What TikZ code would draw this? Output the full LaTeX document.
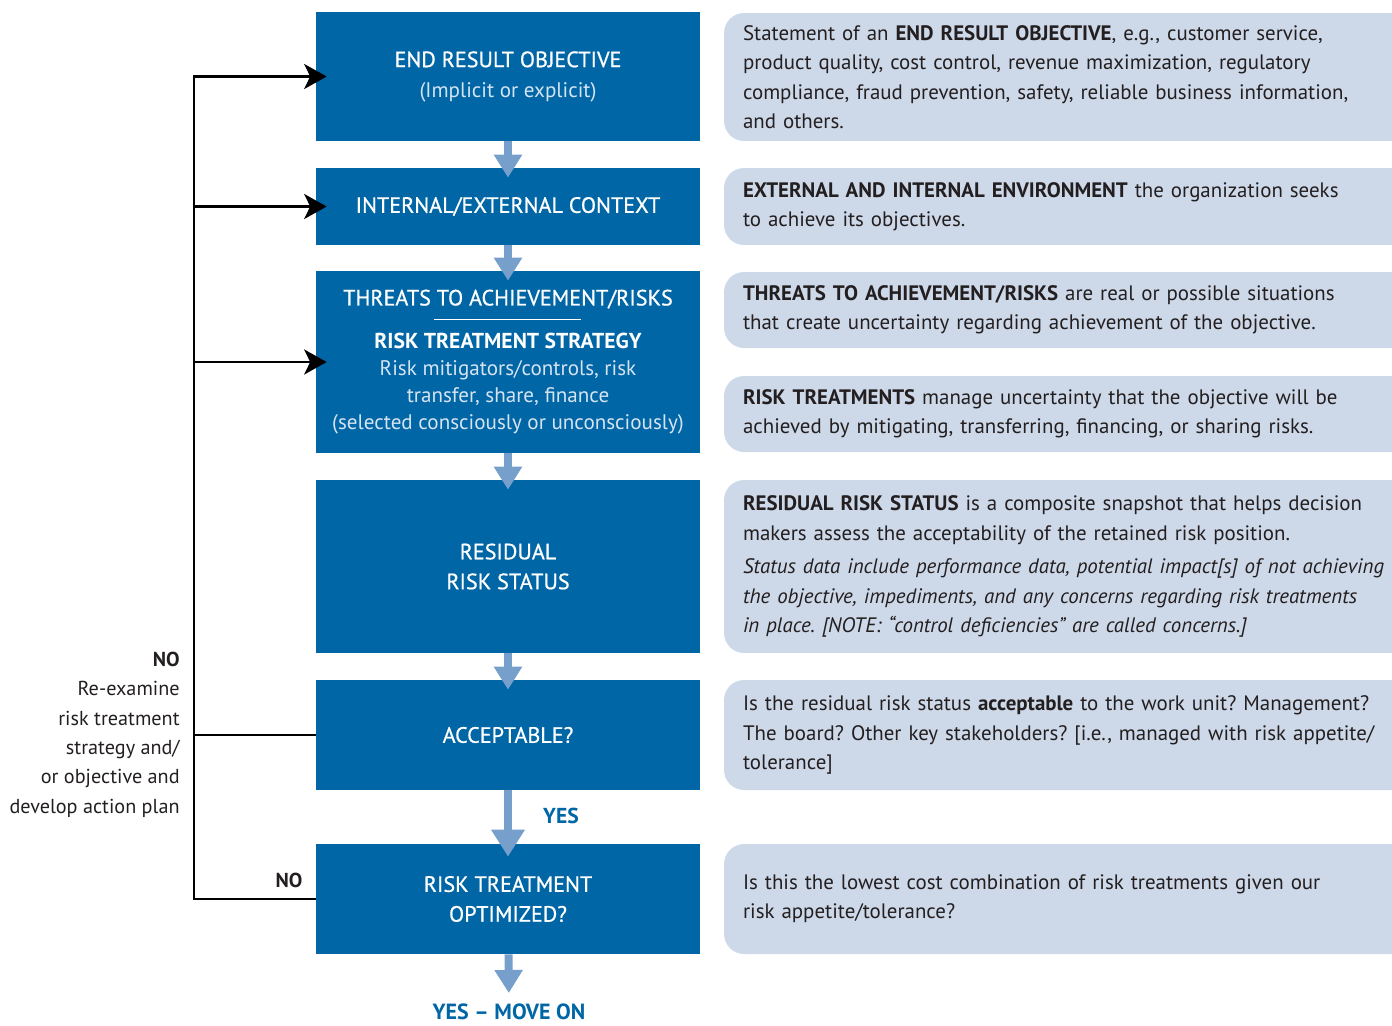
\documentclass[tikz,border=0pt]{standalone}
\usepackage{fontspec}
\setmainfont{PT Sans}
\newfontfamily\medfont[FakeBold=0.7]{PT Sans}
\usetikzlibrary{arrows.meta,calc}
\definecolor{BoxClr}{RGB}{0,102,166}
\definecolor{ArrClr}{RGB}{118,159,204}
\definecolor{NoteClr}{RGB}{205,216,232}
\definecolor{TxtClr}{RGB}{35,31,32}
\definecolor{SubClr}{RGB}{214,228,242}
\newcommand{\subtxt}[1]{\textcolor{SubClr}{\fontsize{12}{15.4}\selectfont #1}}
\frenchspacing

\begin{document}
\begin{tikzpicture}[x=0.02cm,y=-0.02cm,
  stepbox/.style={fill=BoxClr,text=white,minimum width=7.68cm,align=center,inner sep=0pt,font=\fontsize{12.6}{17}\selectfont\medfont},
  note/.style={fill=NoteClr,rounded corners=0.4cm,minimum width=13.76cm,text width=13cm,align=left,inner sep=0pt,text=TxtClr,font=\fontsize{11.9}{16.7}\selectfont},
  flow/.style={draw=ArrClr,line width=0.16cm,-{Triangle[length=0.46cm,width=0.54cm]},shorten >=-0.2cm},
  backline/.style={draw=black,line width=1.4pt},
  fbarrow/.style={backline,-{Stealth[length=0.45cm,width=0.5cm,inset=0.12cm]},shorten >=-0.22cm},
  label/.style={inner sep=0pt,text=TxtClr,font=\fontsize{11.5}{16.7}\selectfont}]
\useasboundingbox (0,0) rectangle (1392,1025);

\node[stepbox,minimum height=2.58cm] (obj) at (508,76.5) {END RESULT OBJECTIVE\\ \subtxt{\normalfont(Implicit or explicit)}};
\node[stepbox,minimum height=1.54cm] (ctx) at (508,206.5) {INTERNAL/EXTERNAL CONTEXT};
\node[stepbox,minimum height=3.64cm,font=\fontsize{12.6}{15.4}\selectfont\medfont] (risk) at (508,362)
  {THREATS TO ACHIEVEMENT/RISKS\\[9.1pt] {\normalfont\fontsize{12.3}{15.4}\selectfont\bfseries RISK TREATMENT STRATEGY}\\ \subtxt{\normalfont Risk mitigators/controls, risk}\\ \subtxt{\normalfont transfer, share, finance}\\ \subtxt{\normalfont(selected consciously or unconsciously)}};
\node[stepbox,minimum height=3.46cm] (resid) at (508,566.5) {RESIDUAL\\ RISK STATUS};
\node[stepbox,minimum height=2.2cm] (accept) at (508,735) {ACCEPTABLE?};
\node[stepbox,minimum height=2.2cm] (optim) at (508,899) {RISK TREATMENT\\ OPTIMIZED?};
\node[inner sep=0pt,text=BoxClr,font=\fontsize{12.5}{15}\selectfont\bfseries,anchor=base] (moveon) at (509,1019) {YES -- MOVE ON};

\draw[white,line width=0.6pt] ($(risk.north)+(-74,49)$) -- ($(risk.north)+(73,49)$);

\node[note,minimum height=2.56cm] (objNote) at (1068,77)
  {Statement of an \textbf{END RESULT OBJECTIVE}, e.g., customer service,\\ product quality, cost control, revenue maximization, regulatory\\ compliance, fraud prevention, safety, reliable business information,\\ and others.};
\node[note,minimum height=1.54cm] (ctxNote) at (1068,206.5)
  {\textbf{EXTERNAL AND INTERNAL ENVIRONMENT} the organization seeks\\ to achieve its objectives.};
\node[note,minimum height=1.52cm] (riskNote) at (1068,310)
  {\textbf{THREATS TO ACHIEVEMENT/RISKS} are real or possible situations\\ that create uncertainty regarding achievement of the objective.};
\node[note,minimum height=1.52cm] (treatNote) at (1068,414)
  {\textbf{RISK TREATMENTS} manage uncertainty that the objective will be\\ achieved by mitigating, transferring, financing, or sharing risks.};
\node[note,minimum height=3.46cm] (residNote) at (1068,566.5)
  {\textbf{RESIDUAL RISK STATUS} is a composite snapshot that helps decision\\ makers assess the acceptability of the retained risk position.\\[2.5pt]
   \textit{Status data include performance data, potential impact[s] of not achieving}\\ \textit{the objective, impediments, and any concerns regarding risk treatments}\\ \textit{in place. [NOTE: “control deficiencies” are called concerns.]}};
\node[note,minimum height=2.2cm] (acceptNote) at (1068,735)
  {Is the residual risk status \textbf{acceptable} to the work unit? Management?\\ The board? Other key stakeholders? [i.e., managed with risk appetite/\\ tolerance]};
\node[note,minimum height=2.2cm] (optimNote) at (1068,899)
  {Is this the lowest cost combination of risk treatments given our\\ risk appetite/tolerance?};

\node[label,align=right,anchor=east] (noTop) at (180,734.5)
  {\textbf{NO}\\ Re-examine\\ risk treatment\\ strategy and/\\ or objective and\\ develop action plan};
\node[label,font=\fontsize{11.5}{16.7}\selectfont\bfseries] (noLow) at (289,880) {NO};
\node[inner sep=0pt,text=BoxClr,font=\fontsize{12.3}{15}\selectfont\bfseries] (yes) at (561,816) {YES};

\coordinate (top) at (194,76.5);

\draw[flow] (obj) -- (ctx);
\draw[flow] (ctx) -- (risk);
\draw[flow] (risk) -- (resid);
\draw[flow] (resid) -- (accept);
\draw[flow,-{Triangle[length=0.54cm,width=0.64cm]},shorten >=-0.26cm] (accept) -- (optim);
\draw[flow,shorten >=0.2cm] (optim) -- (moveon);

\draw[fbarrow] (optim.west) -| (top) -- (obj.west);
\draw[fbarrow] (top |- ctx.west) -- (ctx.west);
\draw[fbarrow] (top |- risk.west) -- (risk.west);
\draw[backline] (accept.west) -- (top |- accept.west);

\end{tikzpicture}
\end{document}
